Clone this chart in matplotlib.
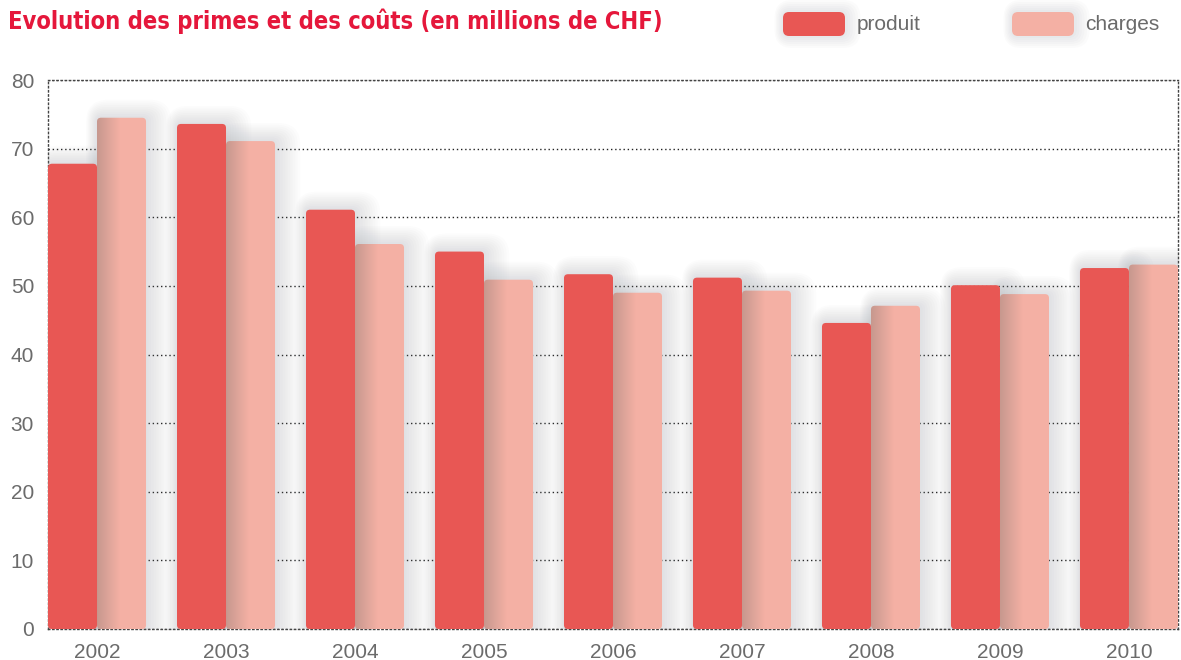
import numpy as np
import matplotlib.pyplot as plt
from matplotlib.patches import FancyBboxPatch

years = ['2002', '2003', '2004', '2005', '2006', '2007', '2008', '2009', '2010']
produit = [67.8, 73.6, 61.1, 55.0, 51.7, 51.2, 44.6, 50.1, 52.6]
charges = [74.5, 71.1, 56.1, 50.9, 49.0, 49.3, 47.1, 48.8, 53.1]

c_prod = '#e85754'
c_char = '#f4b0a4'
c_title = '#e5173b'
c_text = '#6b6b6b'

plt.rcParams['font.family'] = ['Liberation Sans', 'DejaVu Sans']

fig = plt.figure(figsize=(11.81, 6.6), dpi=100)
ax = fig.add_axes([48 / 1181, 1 - 629 / 660, 1130 / 1181, 549 / 660])

w = 0.38
x = np.arange(len(years))
span = len(years) - 1 + 2 * w
ax.set_xlim(-w, len(years) - 1 + w)
ax.set_ylim(0, 80)

# px -> data conversion for rounded corners
asp = (80 / 549) / (span / 1130)
r = 4 * span / 1130


def draw_bar(x0, h, color, z):
    # soft shadow
    for k in range(10):
        pad = (k + 1) * 1.8 * span / 1130
        sh = FancyBboxPatch((x0 + pad * 0.4, 0), w, h,
                            boxstyle=f'round,pad={pad},rounding_size={r + pad}',
                            mutation_aspect=asp, fc='#8a9098', ec='none',
                            alpha=0.022, zorder=z - 1)
        ax.add_patch(sh)
    p = FancyBboxPatch((x0, 0), w, h, boxstyle=f'round,pad=0,rounding_size={r}',
                       mutation_aspect=asp, fc=color, ec='none', zorder=z)
    ax.add_patch(p)
    return p


for i in x:
    draw_bar(i - w, produit[i], c_prod, 4)
    pc = draw_bar(i, charges[i], c_char, 3)
    # shading of the second bar next to the first one
    grad = np.linspace(0.35, 0, 64).reshape(1, -1)
    im = ax.imshow(np.dstack([np.full((1, 64), 0.45), np.full((1, 64), 0.42),
                              np.full((1, 64), 0.40), grad]),
                   extent=(i, i + w * 0.45, 0, charges[i]), aspect='auto',
                   zorder=3.5, interpolation='bilinear')
    im.set_clip_path(pc)

ax.set_aspect('auto')
ax.set_yticks(range(0, 81, 10))
ax.set_xticks(x)
ax.set_xticklabels(years)
ax.grid(axis='y', linestyle=(0, (1, 2)), color='#222222', linewidth=1.0, zorder=0)
for s in ax.spines.values():
    s.set_linestyle((0, (1, 2)))
    s.set_color('#444444')
    s.set_linewidth(1.0)
ax.tick_params(length=0, labelsize=15, colors=c_text, pad=10)
ax.tick_params(axis='x', pad=10)
ax.set_axisbelow(True)

fig.text(8 / 1181, 1 - 21 / 660, 'Evolution des primes et des coûts (en millions de CHF)',
         color=c_title, fontsize=17, fontweight='bold', fontstretch='condensed',
         family=['DejaVu Sans'], va='center')

# legend
for lx, tx, col, lab in [(783, 857, c_prod, 'produit'), (1012, 1085, c_char, 'charges')]:
    for k in range(6):
        pad = (k + 1) * 2 / 1181
        fig.patches.append(FancyBboxPatch((lx / 1181 + pad * 0.3, 1 - 36 / 660), 62 / 1181, 24 / 660,
                                          boxstyle=f'round,pad={pad},rounding_size={6 / 1181 + pad}',
                                          mutation_aspect=1181 / 660, fc='#8a9098', ec='none',
                                          alpha=0.03, transform=fig.transFigure, figure=fig))
    fig.patches.append(FancyBboxPatch((lx / 1181, 1 - 36 / 660), 62 / 1181, 24 / 660,
                                      boxstyle=f'round,pad=0,rounding_size={6 / 1181}',
                                      mutation_aspect=1181 / 660, fc=col, ec='none',
                                      transform=fig.transFigure, figure=fig))
    fig.text(tx / 1181, 1 - 24 / 660, lab, color=c_text, fontsize=15, va='center')

fig.savefig('out.png', dpi=100)
